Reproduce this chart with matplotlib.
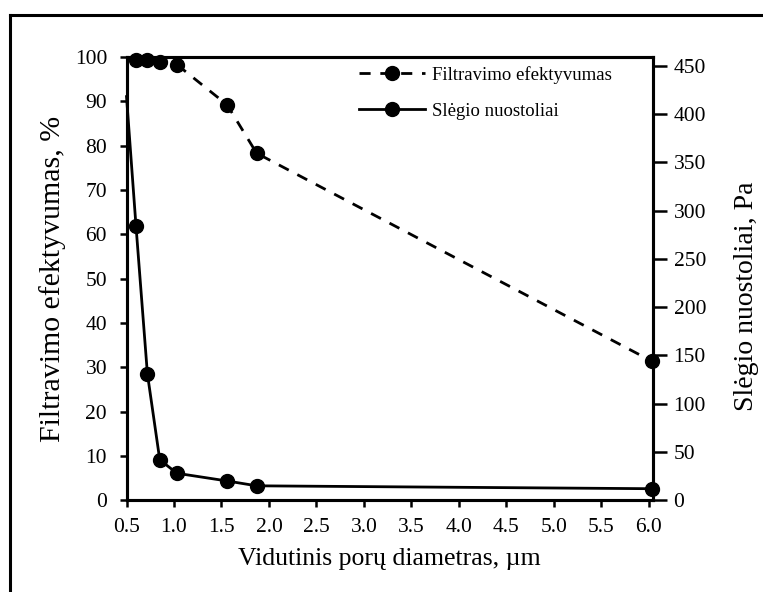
#!/usr/bin/env python3
"""Filtration efficiency and pressure loss versus mean pore diameter."""

import matplotlib

matplotlib.use("Agg")
import matplotlib.pyplot as plt
from matplotlib.lines import Line2D

# mean pore diameter, um
diameter = [0.60, 0.72, 0.85, 1.03, 1.56, 1.87, 6.03]
efficiency = [99.4, 99.4, 98.9, 98.3, 89.2, 78.3, 31.4]

# pressure loss curve starts at the left edge of the axis
diameter_dp = [0.50, 0.60, 0.72, 0.85, 1.03, 1.56, 1.87, 6.03]
pressure = [418, 284, 131, 42, 28, 20, 15, 12]

x_ticks = [0.5, 1.0, 1.5, 2.0, 2.5, 3.0, 3.5, 4.0, 4.5, 5.0, 5.5, 6.0]
eff_ticks = list(range(0, 101, 10))
dp_ticks = list(range(0, 451, 50))


def main() -> int:
    plt.rcParams["font.family"] = ["Liberation Serif", "DejaVu Serif"]

    fig = plt.figure(figsize=(7.63, 5.92), dpi=100)
    ax = fig.add_axes([0.1658, 0.1549, 0.6896, 0.7488])
    ax2 = ax.twinx()

    (h_eff,) = ax.plot(
        diameter, efficiency, color="black", lw=2.0, dashes=(4, 3.5),
        marker="o", markersize=10, label="Filtravimo efektyvumas", clip_on=False, zorder=3,
    )
    (h_dp,) = ax2.plot(
        diameter_dp, pressure, color="black", lw=2.0,
        marker="o", markersize=10, markevery=list(range(1, len(pressure))),
        label="Slėgio nuostoliai", clip_on=False, zorder=3,
    )

    ax.set_xlim(0.5, 6.04)
    ax.set_ylim(0, 100)
    ax2.set_ylim(0, 459)
    ax.set_xticks(x_ticks)
    ax.set_xticklabels([f"{v:.1f}" for v in x_ticks])
    ax.set_yticks(eff_ticks)
    ax2.set_yticks(dp_ticks)

    for a in (ax, ax2):
        for s in a.spines.values():
            s.set_linewidth(2.2)
        a.tick_params(direction="out", length=5, width=1.8, labelsize=15.5, colors="black")
    ax.tick_params(axis="x", pad=8)
    ax.tick_params(axis="y", pad=9)
    ax2.tick_params(axis="y", length=10, pad=5)

    ax.set_xlabel("Vidutinis porų diametras, µm", fontsize=18.5, labelpad=8)
    ax.set_ylabel("Filtravimo efektyvumas, %", fontsize=21.5, labelpad=6)
    ax2.set_ylabel("Slėgio nuostoliai, Pa", fontsize=20)
    ax2.yaxis.set_label_coords(1.155, 0.46)

    ax2.legend(
        handles=[h_eff, h_dp], loc="upper right", bbox_to_anchor=(0.955, 1.018),
        frameon=False, fontsize=13.5, handlelength=3.5, labelspacing=1.0,
        handletextpad=0.4,
    )

    # frame around the figure (top and left edges)
    fig.add_artist(Line2D([10 / 763, 1.0], [1 - 15 / 592, 1 - 15 / 592],
                          transform=fig.transFigure, color="black", lw=2.2))
    fig.add_artist(Line2D([10 / 763, 10 / 763], [0.0, 1 - 15 / 592],
                          transform=fig.transFigure, color="black", lw=2.2))

    fig.savefig("out.png", dpi=100)
    plt.close(fig)
    return 0


if __name__ == "__main__":
    raise SystemExit(main())
